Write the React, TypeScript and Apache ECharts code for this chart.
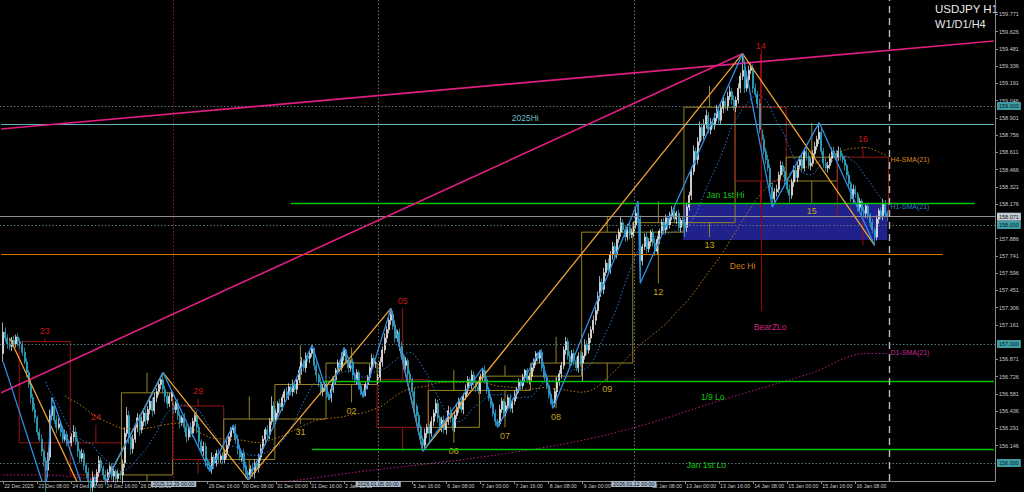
import { useEffect, useRef } from 'react';
import * as echarts from 'echarts';

// ---------------- data ----------------
const DAY_TITLES = ['22 Dec', '23 Dec', '24 Dec', '26 Dec', '29 Dec', '30 Dec', '31 Dec', '2 Jan', '5 Jan', '6 Jan', '7 Jan', '8 Jan', '9 Jan', '12 Jan', '13 Jan', '14 Jan', '15 Jan', '16 Jan'];
const DAY_NUMS = ['22', '23', '24', '26', '29', '30', '31', '02', '05', '06', '07', '08', '09', '12', '13', '14', '15', '16'];
const FIRST_HOUR = 16;

const C_22DEC = [157.10, 157.05, 157.00, 156.98, 157.03, 157.00, 157.06, 157.02];
const C_23DEC = [157.00, 156.93, 156.85, 156.76, 156.66, 156.55, 156.45, 156.38, 156.26, 156.20, 156.10, 156.02, 155.94, 156.05, 156.40, 156.48, 156.36, 156.30, 156.33, 156.26, 156.20, 156.24, 156.18, 156.17];
const C_24DEC = [156.22, 156.26, 156.18, 156.10, 156.04, 156.08, 155.98, 155.92, 155.85, 155.80, 155.88, 155.84, 155.92, 156.02, 155.96, 155.90, 155.86, 155.92, 155.97, 155.89, 155.93, 155.87, 155.91, 155.90];
const C_26DEC = [156.00, 156.25, 156.40, 156.22, 156.12, 156.20, 156.30, 156.38, 156.28, 156.35, 156.42, 156.36, 156.45, 156.52, 156.44, 156.55, 156.60, 156.66, 156.70, 156.62, 156.56, 156.50, 156.56, 156.59];
const C_29DEC = [156.45, 156.50, 156.40, 156.34, 156.38, 156.30, 156.22, 156.30, 156.25, 156.35, 156.40, 156.30, 156.18, 156.10, 156.14, 156.02, 155.98, 155.95, 156.05, 156.00, 156.08, 156.03, 156.06, 156.03];
const C_30DEC = [156.08, 156.15, 156.22, 156.28, 156.30, 156.20, 156.12, 156.05, 156.08, 155.98, 155.92, 155.90, 155.95, 155.92, 156.00, 155.96, 156.05, 156.12, 156.20, 156.28, 156.24, 156.35, 156.48, 156.37];
const C_31DEC = [156.42, 156.50, 156.47, 156.55, 156.60, 156.57, 156.64, 156.60, 156.66, 156.62, 156.70, 156.78, 156.85, 156.80, 156.90, 156.88, 156.92, 156.96, 156.82, 156.74, 156.68, 156.60, 156.63, 156.66];
const C_02JAN = [156.58, 156.55, 156.62, 156.70, 156.78, 156.84, 156.80, 156.90, 156.95, 156.86, 156.80, 156.85, 156.74, 156.70, 156.76, 156.65, 156.60, 156.57, 156.66, 156.72, 156.80, 156.88, 156.84, 156.84];
const C_05JAN = [156.72, 156.85, 156.95, 157.05, 157.12, 157.20, 157.25, 157.15, 157.05, 157.10, 156.98, 156.90, 156.82, 156.86, 156.75, 156.70, 156.60, 156.48, 156.40, 156.30, 156.20, 156.15, 156.25, 156.30];
const C_06JAN = [156.25, 156.35, 156.42, 156.50, 156.38, 156.30, 156.36, 156.28, 156.35, 156.44, 156.38, 156.30, 156.40, 156.46, 156.52, 156.45, 156.56, 156.62, 156.70, 156.66, 156.74, 156.68, 156.64, 156.61];
const C_07JAN = [156.72, 156.78, 156.70, 156.62, 156.55, 156.50, 156.42, 156.35, 156.33, 156.45, 156.52, 156.42, 156.48, 156.55, 156.46, 156.52, 156.58, 156.62, 156.68, 156.65, 156.72, 156.78, 156.70, 156.73];
const C_08JAN = [156.80, 156.86, 156.92, 156.88, 156.93, 156.80, 156.72, 156.65, 156.58, 156.52, 156.50, 156.60, 156.68, 156.75, 156.82, 156.95, 157.02, 156.90, 156.85, 156.92, 156.86, 156.80, 156.90, 156.84];
const C_09JAN = [156.90, 157.00, 156.95, 157.05, 157.12, 157.20, 157.28, 157.40, 157.52, 157.46, 157.60, 157.68, 157.62, 157.75, 157.82, 157.76, 157.88, 157.94, 158.02, 157.96, 157.90, 157.98, 157.92, 157.94];
const C_12JAN = [158.00, 158.10, 158.05, 157.70, 157.82, 157.90, 157.80, 157.86, 157.94, 157.85, 157.78, 157.88, 157.95, 158.02, 157.96, 158.06, 158.00, 158.08, 158.12, 158.05, 158.10, 157.98, 158.04, 158.02];
const C_13JAN = [157.98, 158.15, 158.25, 158.45, 158.62, 158.55, 158.70, 158.82, 158.75, 158.85, 158.92, 158.80, 158.86, 158.84, 158.90, 158.96, 158.88, 158.98, 159.04, 159.00, 159.08, 159.12, 159.05, 158.99];
const C_14JAN = [159.05, 159.15, 159.25, 159.30, 159.15, 159.22, 159.30, 159.32, 159.15, 159.10, 159.02, 158.80, 158.72, 158.62, 158.55, 158.48, 158.32, 158.22, 158.28, 158.30, 158.42, 158.50, 158.45, 158.37];
const C_15JAN = [158.30, 158.25, 158.36, 158.46, 158.40, 158.50, 158.55, 158.48, 158.62, 158.58, 158.50, 158.52, 158.60, 158.66, 158.72, 158.78, 158.62, 158.52, 158.48, 158.50, 158.56, 158.62, 158.60, 158.57];
const C_16JAN = [158.62, 158.58, 158.55, 158.50, 158.42, 158.35, 158.22, 158.30, 158.26, 158.15, 158.20, 158.12, 158.10, 158.16, 158.08, 158.02, 157.96, 157.90, 158.05, 158.12, 158.08, 158.18, 158.10, 158.07];

const CLOSES = [C_22DEC, C_23DEC, C_24DEC, C_26DEC, C_29DEC, C_30DEC, C_31DEC, C_02JAN, C_05JAN, C_06JAN, C_07JAN, C_08JAN, C_09JAN, C_12JAN, C_13JAN, C_14JAN, C_15JAN, C_16JAN];

// upper / lower wick lengths per bar, in 0.01 yen (base-36 digits)
const UP_WICKS = [
  '84353423',
  '324324352342345734523432',
  '364324324352343243234232',
  '357434343434343434263432',
  '324324324324324323423423',
  '343223432432343234324384',
  '324324324323423223132432',
  '324323232132323232323432',
  '343432534234232323232343',
  '343432343432343234324323',
  '324323232432323232323123',
  '322123232323433343434334',
  '343434345343434343534343',
  '34a323432343234323432323',
  '343453453453434534534534',
  '343e43443434343434343434',
  '343434343434343843434343',
  '432323243232323232323432',
];
const DOWN_WICKS = [
  '73434234',
  '432435243245j63435243243',
  '343543456k45343453435434',
  '843654345345345343435434',
  '434534534345434532453434',
  '343434534554345343453435',
  '434343434343434343454343',
  '324343434343434332143434',
  '434343434343434345434534',
  '834343434343434343434343',
  '343434343234343434343434',
  '434343434343434343434343',
  'f34343434343434343434343',
  '433j43434343434343434343',
  '843435434343434343434343',
  '434343434343434347343434',
  '363434343434343434343434',
  '343434343434343437343434',
];
const OPEN_OVERRIDES: Record<number, number> = { 0: 156.92, 80: 156.48, 176: 156.7 };

const BLUE_ZIGZAG: [number, string][] = [[0, 'L'], [20, 'L'], [23, 'H'], [41, 'L'], [75, 'H'], [97, 'L'], [108, 'H'], [115, 'L'], [145, 'H'], [153, 'L'], [160, 'H'], [169, 'L'], [182, 'H'], [197, 'L'], [225, 'H'], [232, 'L'], [252, 'H'], [258, 'L'], [298, 'H'], [299, 'L'], [347, 'H'], [361, 'L'], [383, 'H'], [409, 'L']];
const ORANGE_ZIGZAG: [number, string][] = [[3, 'H'], [41, 'L'], [75, 'H'], [115, 'L'], [182, 'H'], [197, 'L'], [347, 'H'], [409, 'L']];

const D1_SMA = [155.90, 155.90, 155.86, 155.82, 155.80, 155.82, 155.86, 155.92, 155.97, 156.02, 156.08, 156.15, 156.24, 156.36, 156.50, 156.63, 156.76, 156.92];

const LEVEL_2025_HI = 158.85;
const LEVEL_JAN1_HI = 158.185;
const LEVEL_DEC_HI = 157.757;
const LEVEL_JAN9_LO = 156.69;
const LEVEL_JAN1_LO = 156.118;
const ZONE = [157.874, 158.185];
const ROUND_LEVELS = [159, 158, 157, 156];
const LAST_PRICE = 158.071;
const TREND_SHALLOW = [158.807, 159.546];
const TREND_STEEP_START = 156.59;
const BEARZ_LO_TEXT_PRICE = 157.143;
const Y_TICKS = [159.771, 159.626, 159.481, 159.336, 159.191, 159.046, 158.901, 158.756, 158.611, 158.466, 158.321, 158.176, 157.886, 157.741, 157.596, 157.451, 157.306, 157.161, 156.871, 156.726, 156.581, 156.436, 156.291, 156.146];
const WEEK_SEPARATORS = [
  { bar: 80, label: '2025.12.29 00:00' },
  { bar: 176, label: '2026.01.05 00:00' },
  { bar: 296, label: '2026.01.12 00:00' },
];
// time labels hidden behind the separator boxes
const HIDDEN_TIME_LABEL_BARS = [80, 176, 288];

// ---------------- layout / style ----------------
const Y_MIN = 155.849;
const Y_MAX = 159.891;
const TOTAL_CATS = 467;
const FONT = '"Liberation Sans", Arial, sans-serif';
const BULL = '#f2f2f2';
const BEAR = '#2fb2cf';

type Bar = { o: number; c: number; h: number; l: number; day: number; hour: number };

function buildBars(): Bar[] {
  const bars: Bar[] = [];
  CLOSES.forEach((day, d) => {
    day.forEach((c, k) => {
      const i = bars.length;
      const o = OPEN_OVERRIDES[i] ?? bars[i - 1].c;
      const up = parseInt(UP_WICKS[d][k] ?? '0', 36) / 100;
      const dn = parseInt(DOWN_WICKS[d][k] ?? '0', 36) / 100;
      bars.push({
        o, c,
        h: +(Math.max(o, c) + up).toFixed(3),
        l: +(Math.min(o, c) - dn).toFixed(3),
        day: d,
        hour: (d === 0 ? FIRST_HOUR : 0) + k,
      });
    });
  });
  return bars;
}

function buildOption() {
  const bars = buildBars();
  const n = bars.length;
  const cats: string[] = ['start'];
  bars.forEach((b) => cats.push(`${DAY_TITLES[b.day]} ${String(b.hour).padStart(2, '0')}:00`));
  while (cats.length < TOTAL_CATS) cats.push('blank' + cats.length);

  const isTick = (idx: number) => idx >= 1 && idx <= n && (idx - 1) % 16 === 0;
  const isLabel = (idx: number) => isTick(idx) && HIDDEN_TIME_LABEL_BARS.indexOf(idx - 1) < 0;

  const candles = bars.map((b, i) => [i + 1, b.o, b.c, b.l, b.h]);

  const sma = (len: number, minLen: number) => {
    const out: number[][] = [];
    for (let i = 0; i < n; i++) {
      if (i + 1 < minLen) continue;
      const s = Math.max(0, i - len + 1);
      let sum = 0;
      for (let j = s; j <= i; j++) sum += bars[j].c;
      out.push([i + 1, +(sum / (i - s + 1)).toFixed(4)]);
    }
    return out;
  };
  const h1 = sma(21, 21);
  const h4 = sma(84, 30);

  const days: { s: number; e: number }[] = [];
  bars.forEach((b, i) => {
    if (!days[b.day]) days[b.day] = { s: i, e: i };
    days[b.day].e = i;
  });
  const d1: number[][] = [];
  days.forEach((r, d) => {
    const mid = d === 0 ? r.s : Math.round((r.s + r.e) / 2);
    d1.push([mid + 1, D1_SMA[d]]);
  });
  d1.push([n, D1_SMA[D1_SMA.length - 1]]);

  const boxes = days.slice(1).map((r, k) => {
    const d = k + 1;
    let h = -Infinity, l = Infinity;
    for (let i = r.s; i <= r.e; i++) { h = Math.max(h, bars[i].h); l = Math.min(l, bars[i].l); }
    return [r.s + 1, r.e + 1, bars[r.s].o, bars[r.e].c, h, l, d];
  });

  const zig = (piv: [number, string][]) => piv.map(([i, t]) => [i + 1, t === 'H' ? bars[i].h : bars[i].l]);

  const peak = bars[347].h;

  const notes = [
    { text: '2025Hi', bar: 245, price: LEVEL_2025_HI, dy: -1, color: '#6cbcc6', va: 'bottom', size: 8.5 },
    { text: 'Jan 1st Hi', bar: 339, price: LEVEL_JAN1_HI, dy: -4, color: '#10c810', va: 'bottom', size: 8.5 },
    { text: 'Dec Hi', bar: 347, price: LEVEL_DEC_HI, dy: 8, color: '#d87e10', va: 'top', size: 8.5 },
    { text: '1/9 Lo', bar: 333, price: LEVEL_JAN9_LO, dy: 12, color: '#10c810', va: 'top', size: 8.5 },
    { text: 'Jan 1st Lo', bar: 330, price: LEVEL_JAN1_LO, dy: 12, color: '#10c810', va: 'top', size: 8.5 },
    { text: 'BearZLo', bar: 360, price: BEARZ_LO_TEXT_PRICE, dy: 0, color: '#d0267e', va: 'middle', size: 8.5 },
    { text: 'H4-SMA(21)', bar: 416, price: h4[h4.length - 1][1], dy: 3, dx: 1, align: 'left', color: '#d48a22', va: 'middle', size: 7 },
    { text: 'H1-SMA(21)', bar: 416, price: h1[h1.length - 1][1], dy: 0, dx: 1, align: 'left', color: '#2f80d8', va: 'middle', size: 7 },
    { text: 'D1-SMA(21)', bar: 416, price: D1_SMA[D1_SMA.length - 1], dy: -1, dx: 1, align: 'left', color: '#c62a92', va: 'middle', size: 7 },
  ];

  const boxLabel = (bg: string, fg: string, txt: string) => ({
    show: true, position: 'end', formatter: txt, distance: 2,
    backgroundColor: bg, color: fg, fontSize: 5.5, fontFamily: FONT, padding: [1, 2, 1, 2],
  });

  const markLines: any[] = [
    ...ROUND_LEVELS.map((v) => ({
      yAxis: v,
      lineStyle: { color: '#57797c', type: [1.5, 2], width: 1 },
      label: boxLabel('#3d9ea6', '#061a1a', v.toFixed(3)),
    })),
    {
      yAxis: LAST_PRICE,
      lineStyle: { color: '#8e8e8e', type: 'solid', width: 1 },
      label: boxLabel('#c3ccd8', '#111111', LAST_PRICE.toFixed(3)),
    },
    [{ coord: [0, LEVEL_2025_HI], lineStyle: { color: '#5fb3bd', width: 1, type: 'solid' } }, { coord: [TOTAL_CATS - 1, LEVEL_2025_HI] }],
    [{ coord: [136, LEVEL_JAN1_HI], lineStyle: { color: '#00c400', width: 1.3, type: 'solid' } }, { coord: [457, LEVEL_JAN1_HI] }],
    [{ coord: [0, LEVEL_DEC_HI], lineStyle: { color: '#d07800', width: 1, type: 'solid' } }, { coord: [442, LEVEL_DEC_HI] }],
    [{ coord: [151, LEVEL_JAN9_LO], lineStyle: { color: '#00c400', width: 1.3, type: 'solid' } }, { coord: [TOTAL_CATS - 1, LEVEL_JAN9_LO] }],
    [{ coord: [146, LEVEL_JAN1_LO], lineStyle: { color: '#00c400', width: 1.3, type: 'solid' } }, { coord: [TOTAL_CATS - 1, LEVEL_JAN1_LO] }],
    ...WEEK_SEPARATORS.map((w, k) => ({
      xAxis: w.bar + 1,
      lineStyle: { color: k === 0 ? '#8a1c1c' : '#6c6c6c', type: [1.5, 2], width: 1 },
      label: {
        show: true, position: 'start', formatter: w.label, distance: 0,
        fontSize: 5.3, fontFamily: FONT, color: '#0c0c0c', backgroundColor: '#a7b8ca', padding: [0.5, 2, 0.5, 2],
      },
    })),
    { xAxis: n + 1, lineStyle: { color: '#bdbdbd', type: [7, 5], width: 1.4 } },
    [{ coord: [357, 159.48], lineStyle: { color: '#a00000', width: 1, type: 'solid' } }, { coord: [357, 157.28] }],
  ];

  return {
    animation: false,
    backgroundColor: '#000000',
    grid: { left: 0, right: 29, top: 0, bottom: 11, containLabel: false },
    xAxis: {
      type: 'category',
      data: cats,
      boundaryGap: true,
      axisLine: { show: true, lineStyle: { color: '#8a8a8a', width: 1 } },
      axisTick: { show: true, interval: (i: number) => isTick(i), alignWithLabel: true, length: 3, lineStyle: { color: '#8a8a8a' } },
      axisLabel: {
        interval: (i: number) => isLabel(i),
        formatter: (v: string, i: number) => (i === 1 ? '22 Dec 2025' : v),
        color: '#c8c8c8', fontSize: 5.2, fontFamily: FONT, align: 'left', margin: 2, padding: [0, 0, 0, 1],
      },
      splitLine: { show: false },
    },
    yAxis: {
      type: 'value',
      position: 'right',
      min: Y_MIN,
      max: Y_MAX,
      axisLine: { show: true, lineStyle: { color: '#8a8a8a' } },
      axisTick: { show: true, customValues: Y_TICKS, length: 3, lineStyle: { color: '#8a8a8a' } },
      axisLabel: { customValues: Y_TICKS, formatter: (v: number) => v.toFixed(3), color: '#c8c8c8', fontSize: 5.5, fontFamily: FONT, margin: 4 },
      splitLine: { show: false },
    },
    graphic: [
      { type: 'text', left: 935, top: 3, style: { text: 'USDJPY H1', fill: '#e8e8e8', font: `11.5px ${FONT}` } },
      { type: 'text', left: 935, top: 18, style: { text: 'W1/D1/H4', fill: '#e8e8e8', font: `11px ${FONT}` } },
    ],
    series: [
      {
        name: 'zone', type: 'line', data: [], z: 1, silent: true,
        markArea: {
          silent: true,
          itemStyle: { color: '#21218c', opacity: 1 },
          data: [[{ coord: [320, ZONE[1]] }, { coord: [n, ZONE[0]] }]],
        },
        markLine: { silent: true, symbol: ['none', 'none'], label: { show: false }, data: markLines },
      },
      {
        name: 'dayBoxes', type: 'custom', z: 2, silent: true, clip: true,
        encode: { x: [0, 1], y: [2, 3, 4, 5] },
        data: boxes,
        renderItem: (params: any, api: any) => {
          const s = api.value(0), e = api.value(1), o = api.value(2), c = api.value(3), h = api.value(4), l = api.value(5), d = api.value(6);
          const bull = c >= o;
          const col = bull ? '#968320' : '#951616';
          const band = api.size([1, 0])[0];
          const pTop = api.coord([s, Math.max(o, c)]);
          const pBot = api.coord([e, Math.min(o, c)]);
          const x1 = pTop[0] - band / 2, x2 = pBot[0] + band / 2;
          const mx = (x1 + x2) / 2;
          const yH = api.coord([s, h])[1], yL = api.coord([s, l])[1];
          const plotBottom = api.coord([s, Y_MIN])[1];
          const plotTop = api.coord([s, Y_MAX])[1];
          const labelY = bull ? yL + 4 : yH - 3;
          const labelFits = bull ? labelY + 10 <= plotBottom : labelY - 10 >= plotTop;
          const children: any[] = [
            { type: 'rect', shape: { x: x1, y: pTop[1], width: x2 - x1, height: Math.max(1, pBot[1] - pTop[1]) }, style: { fill: 'none', stroke: col, lineWidth: 1 } },
            { type: 'line', shape: { x1: mx, y1: pTop[1], x2: mx, y2: yH }, style: { stroke: col, lineWidth: 1 } },
            { type: 'line', shape: { x1: mx, y1: pBot[1], x2: mx, y2: yL }, style: { stroke: col, lineWidth: 1 } },
          ];
          if (labelFits) {
            children.push({
              type: 'text', x: mx, y: labelY,
              style: { text: DAY_NUMS[d], fill: bull ? '#c4a41c' : '#c81616', fontSize: 9, fontFamily: FONT, align: 'center', verticalAlign: bull ? 'top' : 'bottom' },
            });
          }
          return { type: 'group', children };
        },
      },
      {
        name: 'USDJPY', type: 'candlestick', z: 3, clip: true,
        data: candles,
        encode: { x: 0, y: [1, 2, 3, 4] },
        barWidth: 1.5,
        itemStyle: { color: BULL, color0: BEAR, borderColor: BULL, borderColor0: BEAR, borderWidth: 0.7 },
      },
      {
        name: 'D1-SMA', type: 'line', z: 4, data: d1, showSymbol: false, symbol: 'none', smooth: 0.3, silent: true,
        lineStyle: { color: '#b51f86', width: 1, type: [1.5, 2] },
      },
      {
        name: 'H4-SMA', type: 'line', z: 4, data: h4, showSymbol: false, symbol: 'none', silent: true,
        lineStyle: { color: '#c47a18', width: 1, type: [1.5, 2] },
      },
      {
        name: 'H1-SMA', type: 'line', z: 4, data: h1, showSymbol: false, symbol: 'none', silent: true,
        lineStyle: { color: '#2b7bd4', width: 1, type: [1.5, 2] },
      },
      {
        name: 'trendShallow', type: 'line', z: 5, silent: true, showSymbol: false, symbol: 'none',
        data: [[0, TREND_SHALLOW[0]], [TOTAL_CATS - 1, TREND_SHALLOW[1]]],
        lineStyle: { color: '#e01e80', width: 1.6 },
      },
      {
        name: 'trendSteep', type: 'line', z: 5, silent: true, showSymbol: false, symbol: 'none',
        data: [[0, TREND_STEEP_START], [348, peak]],
        lineStyle: { color: '#e01e80', width: 1.6 },
      },
      {
        name: 'zigzagOrange', type: 'line', z: 6, silent: true, showSymbol: false, symbol: 'none',
        data: zig(ORANGE_ZIGZAG), clip: true,
        lineStyle: { color: '#eea232', width: 1.3 },
      },
      {
        name: 'zigzagBlue', type: 'line', z: 6, silent: true, showSymbol: false, symbol: 'none',
        data: zig(BLUE_ZIGZAG), clip: true,
        lineStyle: { color: '#2c8fe6', width: 1.3 },
      },
      {
        name: 'notes', type: 'custom', z: 7, silent: true,
        data: notes.map((t) => [t.bar + 1, t.price]),
        renderItem: (params: any, api: any) => {
          const t: any = notes[params.dataIndex];
          const p = api.coord([api.value(0), api.value(1)]);
          return {
            type: 'text', x: p[0] + (t.dx || 0), y: p[1] + (t.dy || 0),
            style: { text: t.text, fill: t.color, fontSize: t.size, fontFamily: FONT, align: t.align || 'center', verticalAlign: t.va || 'middle' },
          };
        },
      },
    ],
  };
}

export default function App() {
  const ref = useRef<HTMLDivElement>(null);
  useEffect(() => {
    if (!ref.current) return;
    const chart = echarts.init(ref.current, null, { renderer: 'svg' });
    chart.setOption(buildOption() as any);
    return () => chart.dispose();
  }, []);
  return (
    <div
      ref={ref}
      style={{ position: 'fixed', left: 0, top: 0, width: 1024, height: 492, background: '#000000' }}
    />
  );
}
